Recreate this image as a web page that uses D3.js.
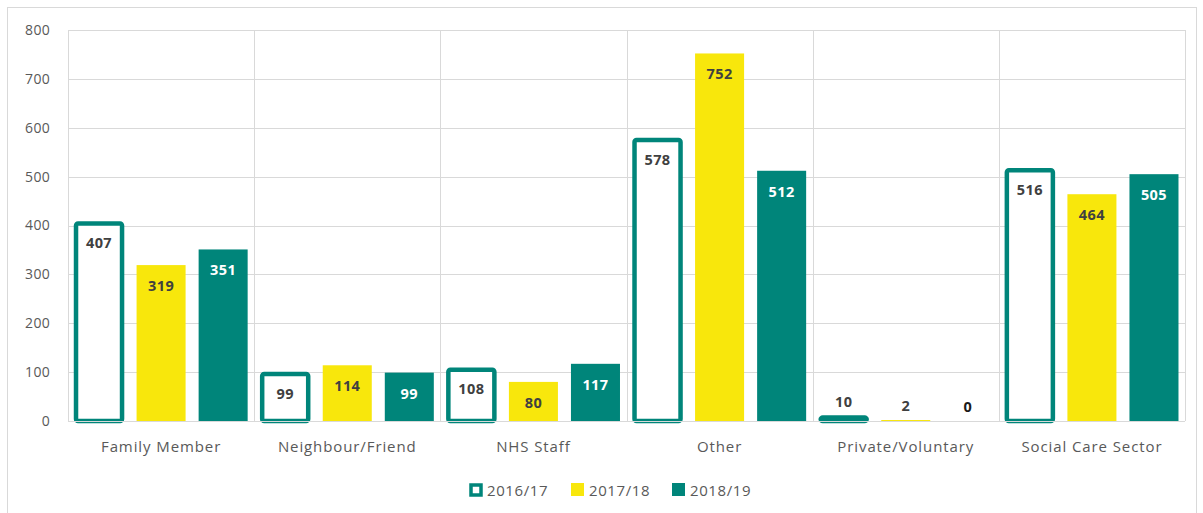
<!DOCTYPE html>
<html>
<head>
<meta charset="utf-8">
<script src="https://cdn.jsdelivr.net/npm/d3@7"></script>
<style>
  body { margin: 0; background: #fff; }
  text { font-family: "Open Sans", "Noto Sans", sans-serif; }
</style>
</head>
<body>
<div id="chart"></div>
<script>
var categories = ["Family Member", "Neighbour/Friend", "NHS Staff", "Other", "Private/Voluntary", "Social Care Sector"];
var seriesNames = ["2016/17", "2017/18", "2018/19"];
var values2016 = [407, 99, 108, 578, 10, 516];
var values2017 = [319, 114, 80, 752, 2, 464];
var values2018 = [351, 99, 117, 512, 0, 505];
var yTicks = [0, 100, 200, 300, 400, 500, 600, 700, 800];

var teal = "#00857a";
var yellow = "#f8e70c";
var grid = "#d9d9d9";
var textGray = "#595959";

var svgWidth = 1203, svgHeight = 513;
var margin = { top: 30, right: 18, bottom: 92, left: 68 };
var width = svgWidth - margin.left - margin.right;
var height = svgHeight - margin.top - margin.bottom;

var data = categories.map(function (c, i) {
  return { cat: c, vals: [values2016[i], values2017[i], values2018[i]] };
});

var svg = d3.select("#chart").append("svg")
  .attr("width", svgWidth)
  .attr("height", svgHeight);

// outer frame
svg.append("rect")
  .attr("x", 7.5).attr("y", 7.5)
  .attr("width", 1189).attr("height", 520)
  .attr("fill", "none")
  .attr("stroke", grid)
  .attr("stroke-width", 1);

var chartGroup = svg.append("g")
  .attr("transform", `translate(${margin.left}, ${margin.top})`);

var x0 = d3.scaleBand().domain(categories).range([0, width]).padding(0);
var x1 = d3.scaleBand().domain(seriesNames).range([0, x0.bandwidth()])
  .paddingInner(0.21).paddingOuter(0.105);
var yScale = d3.scaleLinear().domain([0, 800]).range([height, 0]);

// horizontal gridlines
chartGroup.append("g")
  .selectAll("line")
  .data(yTicks.slice(1))
  .enter()
  .append("line")
  .attr("x1", 0).attr("x2", width)
  .attr("y1", d => Math.round(yScale(d)) + 0.5)
  .attr("y2", d => Math.round(yScale(d)) + 0.5)
  .attr("stroke", grid);

// vertical gridlines at category borders
var borders = categories.map(c => x0(c)).concat([width]);
chartGroup.append("g")
  .selectAll("line")
  .data(borders)
  .enter()
  .append("line")
  .attr("x1", d => Math.round(d) + 0.5).attr("x2", d => Math.round(d) + 0.5)
  .attr("y1", 0).attr("y2", height)
  .attr("stroke", grid);

// y axis labels
var leftAxis = d3.axisLeft(yScale).tickValues(yTicks).tickSize(0).tickPadding(18);
var yAxis = chartGroup.append("g").call(leftAxis);
yAxis.select(".domain").remove();
yAxis.selectAll("text")
  .attr("fill", textGray)
  .style("font-size", "14px")
  .style("letter-spacing", "0.3px");

// bars
var groups = chartGroup.selectAll(".cat")
  .data(data)
  .enter()
  .append("g")
  .attr("class", "cat")
  .attr("transform", d => `translate(${x0(d.cat)}, 0)`);

groups.selectAll("rect")
  .data(d => d.vals.map((v, i) => ({ s: seriesNames[i], v: v, i: i })))
  .enter()
  .append("rect")
  .attr("x", d => x1(d.s) + (d.i === 0 ? 1.5 : 0))
  .attr("width", d => x1.bandwidth() - (d.i === 0 ? 3 : 0))
  .attr("y", d => yScale(d.v) + (d.i === 0 ? 1.5 : 0))
  .attr("height", d => Math.max(0, height - yScale(d.v) - (d.i === 0 ? 1.5 : 0)))
  .attr("fill", d => d.i === 0 ? "#fff" : d.i === 1 ? yellow : teal)
  .attr("stroke", d => d.i === 0 ? teal : "none")
  .attr("stroke-width", 4.5)
  .attr("rx", d => d.i === 0 ? 2 : 0);

// data labels
groups.selectAll(".lbl")
  .data(d => d.vals.map((v, i) => ({ s: seriesNames[i], v: v, i: i })))
  .enter()
  .append("text")
  .attr("class", "lbl")
  .attr("x", d => x1(d.s) + x1.bandwidth() / 2)
  .attr("y", d => d.v < 50 ? yScale(d.v) - 9 : yScale(d.v) + 26)
  .attr("text-anchor", "middle")
  .attr("font-weight", "bold")
  .style("font-size", "14.5px")
  .style("letter-spacing", "0.4px")
  .attr("fill", d => (d.i === 2 && d.v >= 50) ? "#fff" : (d.v === 0 ? "#1a1a1a" : "#404040"))
  .text(d => d.v);

// baseline
chartGroup.append("line")
  .attr("x1", 0).attr("x2", width)
  .attr("y1", height + 0.5).attr("y2", height + 0.5)
  .attr("stroke", grid);

// x axis labels
var bottomAxis = d3.axisBottom(x0).tickSize(0).tickPadding(20);
var xAxis = chartGroup.append("g")
  .attr("transform", `translate(0, ${height})`)
  .call(bottomAxis);
xAxis.select(".domain").remove();
xAxis.selectAll("text")
  .attr("fill", textGray)
  .style("font-size", "15px")
  .style("letter-spacing", "0.9px");

// legend
var legendX = [469, 571, 672];
var legend = svg.append("g").attr("transform", "translate(0, 490)");
var items = legend.selectAll("g")
  .data(seriesNames)
  .enter()
  .append("g")
  .attr("transform", (d, i) => `translate(${legendX[i]}, 0)`);

items.append("rect")
  .attr("x", (d, i) => i === 0 ? 2 : 0)
  .attr("y", (d, i) => i === 0 ? -5 : -7)
  .attr("width", (d, i) => i === 0 ? 10 : 13)
  .attr("height", (d, i) => i === 0 ? 10 : 13)
  .attr("fill", (d, i) => i === 0 ? "#fff" : i === 1 ? yellow : teal)
  .attr("stroke", (d, i) => i === 0 ? teal : "none")
  .attr("stroke-width", 3.5);

items.append("text")
  .attr("x", 18)
  .attr("y", 6)
  .attr("fill", textGray)
  .style("font-size", "15px")
  .style("letter-spacing", "0.6px")
  .text(d => d);
</script>
</body>
</html>
